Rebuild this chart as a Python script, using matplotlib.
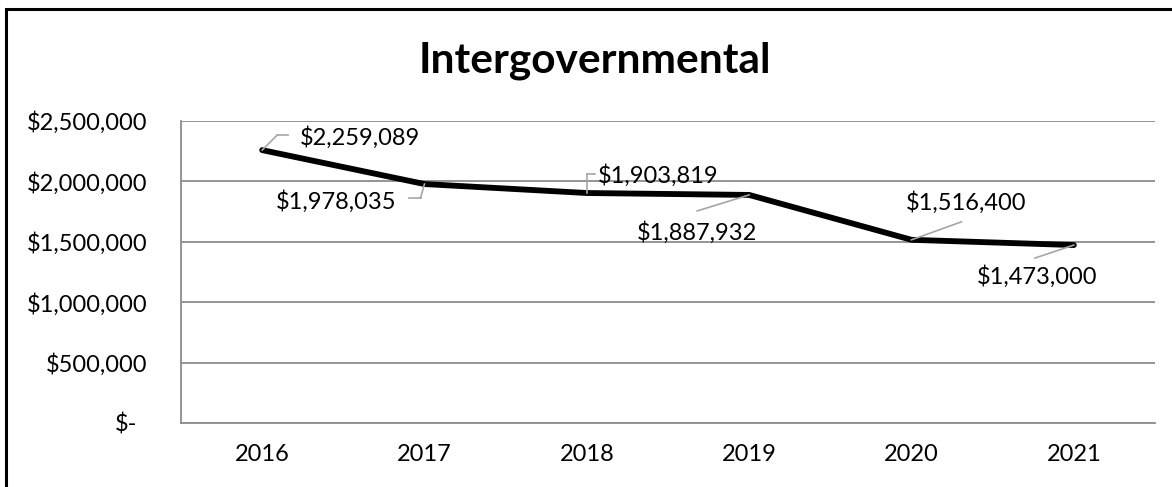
import matplotlib
matplotlib.use("Agg")
import matplotlib.pyplot as plt
from matplotlib.patches import Rectangle
from matplotlib.transforms import offset_copy
from matplotlib.ticker import FuncFormatter

plt.rcParams['font.family'] = ['Lato', 'DejaVu Sans']

# Data
years = ['2016', '2017', '2018', '2019', '2020', '2021']
revenue = [2259089, 1978035, 1903819, 1887932, 1516400, 1473000]
y_ticks = [0, 500000, 1000000, 1500000, 2000000, 2500000]
title = 'Intergovernmental'

# Label placement per point: leader polyline (pixel offsets), text offset, alignment
leaders = [
    [(0, 0), (15, 15), (26, 15)],
    [(0, 0), (-4, -14), (-15, -14)],
    [(0, 0), (0, 19), (8, 19)],
    [(0, 0), (-52, -16)],
    [(0, 0), (50, 18)],
    [(0, 0), (-39, -13)],
]
text_offsets = [(38, 13), (-28, -17), (11, 18), (-52, -38), (55, 37), (-37, -31)]
text_ha = ['left', 'right', 'left', 'center', 'center', 'center']

W, H, DPI = 1172, 487, 100
LABEL_SIZE = 17
fig = plt.figure(figsize=(W / DPI, H / DPI), dpi=DPI)
ax = fig.add_axes([181 / W, (H - 423) / H, (1155 - 181) / W, (423 - 121) / H])

x = list(range(len(years)))
ax.plot(x, revenue, color='black', lw=4.2, solid_joinstyle='round',
        solid_capstyle='round', zorder=3)

ax.set_xlim(-0.5, len(years) - 0.5)
ax.set_ylim(0, 2500000)
ax.set_yticks(y_ticks)
ax.set_xticks(x)
ax.set_xticklabels(years)


def money(v, pos=None):
    return '$-' if v == 0 else '${:,.0f}'.format(v)


ax.yaxis.set_major_formatter(FuncFormatter(money))
ax.grid(axis='y', color='#8c8c8c', lw=1.3, zorder=0)
ax.tick_params(axis='both', length=0, labelsize=LABEL_SIZE, colors='black')
ax.tick_params(axis='y', pad=24)
ax.tick_params(axis='x', pad=15)
for side in ['top', 'right']:
    ax.spines[side].set_visible(False)
for side in ['left', 'bottom']:
    ax.spines[side].set_color('#8c8c8c')
    ax.spines[side].set_linewidth(1.3)

# Accounting format pads the zero label on its right
fig.canvas.draw()
zero_lbl = ax.get_yticklabels()[0]
zero_lbl.set_transform(offset_copy(zero_lbl.get_transform(), fig=fig, x=-10, y=0, units='dots'))

# Data labels with leader lines
inv = fig.transFigure.inverted()
for i, v in enumerate(revenue):
    pts = leaders[i]
    for (x0, y0), (x1, y1) in zip(pts[:-1], pts[1:]):
        t0 = offset_copy(ax.transData, fig=fig, x=x0, y=y0, units='dots')
        t1 = offset_copy(ax.transData, fig=fig, x=x1, y=y1, units='dots')
        f0 = inv.transform(t0.transform((i, v)))
        f1 = inv.transform(t1.transform((i, v)))
        fig.add_artist(plt.Line2D([f0[0], f1[0]], [f0[1], f1[1]],
                                  color='#a6a6a6', lw=1.2, zorder=4))
    dx, dy = text_offsets[i]
    ax.annotate(money(v), xy=(i, v), xytext=(dx * 0.72, dy * 0.72),
                textcoords='offset points', ha=text_ha[i], va='center',
                fontsize=LABEL_SIZE, color='black', zorder=5)

fig.text(595 / W, 1 - 72 / H, title, ha='center', va='baseline',
         fontsize=30.5, fontweight='bold')

# Chart area border
fig.add_artist(Rectangle((6 / W, -0.1), 1.2, 1.1 - 9 / H,
                         transform=fig.transFigure, fill=False,
                         edgecolor='black', lw=2.2))

fig.savefig('out.png', dpi=DPI)
